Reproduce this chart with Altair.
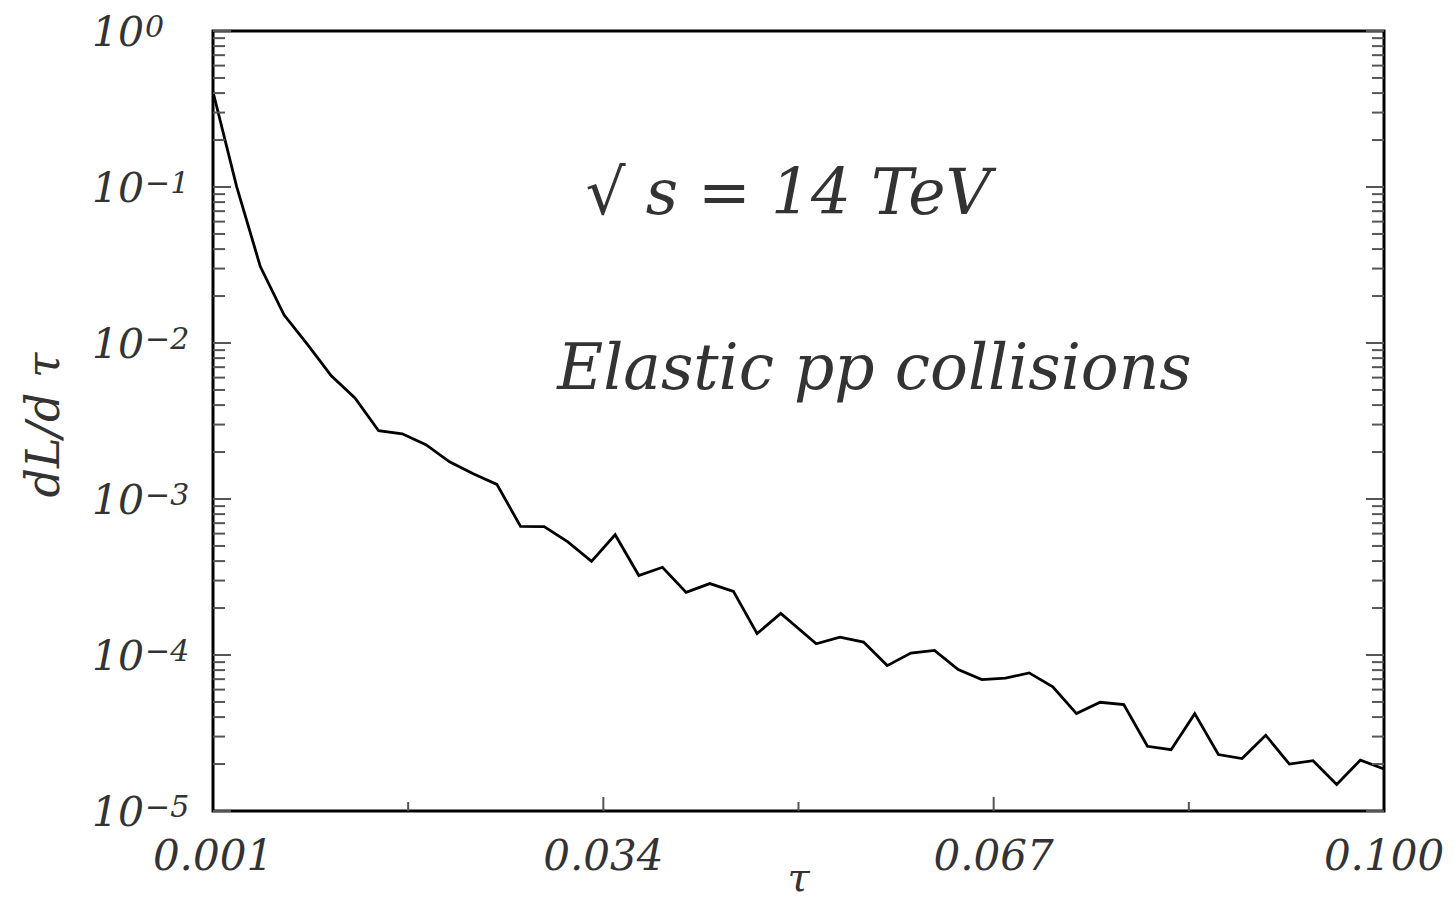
import altair as alt
import pandas as pd

# ---- data ----
tau = [0.001, 0.003, 0.005, 0.007, 0.009, 0.011, 0.013, 0.015, 0.017, 0.019,
       0.021, 0.023, 0.025, 0.027, 0.029, 0.031, 0.033, 0.035, 0.037, 0.039,
       0.041, 0.043, 0.045, 0.047, 0.049, 0.052, 0.054, 0.056, 0.058, 0.060,
       0.062, 0.064, 0.066, 0.068, 0.070, 0.072, 0.074, 0.076, 0.078, 0.080,
       0.082, 0.084, 0.086, 0.088, 0.090, 0.092, 0.094, 0.096, 0.098, 0.100]
dLdtau = [0.408, 0.1006, 0.0309, 0.01517, 0.00975, 0.00616, 0.00444, 0.00274, 0.00262, 0.00223,
          0.00173, 0.00145, 0.00124, 0.000668, 0.000665, 0.000531, 0.000398, 0.000590, 0.000323, 0.000365,
          0.000252, 0.000287, 0.000256, 0.000137, 0.000185, 0.000118, 0.000130, 0.000121, 8.55e-5, 1.03e-4,
          1.07e-4, 8.06e-5, 6.95e-5, 7.10e-5, 7.68e-5, 6.25e-5, 4.21e-5, 4.98e-5, 4.81e-5, 2.60e-5,
          2.47e-5, 4.21e-5, 2.30e-5, 2.17e-5, 3.06e-5, 2.00e-5, 2.10e-5, 1.48e-5, 2.12e-5, 1.86e-5]

x_label_values = [0.001, 0.034, 0.067, 0.100]
x_labels = ["0.001", "0.034", "0.067", "0.100"]
x_major_ticks = [0.034, 0.067]
x_minor_ticks = [0.0175, 0.0505, 0.0835]

y_decades = [1.0, 1e-1, 1e-2, 1e-3, 1e-4, 1e-5]
y_base = ["10", "10", "10", "10", "10", "10"]
y_exp = ["0", "\u22121", "\u22122", "\u22123", "\u22124", "\u22125"]
y_minor_ticks = [m * d for d in [1e-1, 1e-2, 1e-3, 1e-4, 1e-5] for m in [2, 3, 4, 5, 6, 7, 8, 9]]

annotations = ["\u221a s = 14 TeV", "Elastic pp collisions"]
annot_tau = [0.0325, 0.0301]
annot_val = [0.089, 0.00673]

x_title = "\u03c4"
y_title = "dL/d \u03c4"

W, H = 1171, 780
FONT = "DejaVu Serif"
TXT = "#333333"
TICK = "#555555"

xscale = alt.Scale(domain=[0.001, 0.1], nice=False, zero=False)
yscale = alt.Scale(type="log", domain=[1e-5, 1], nice=False)

df = pd.DataFrame({"tau": tau, "v": dLdtau})
line = alt.Chart(df).mark_line(color="black", strokeWidth=2.8).encode(
    x=alt.X("tau:Q", scale=xscale, axis=None),
    y=alt.Y("v:Q", scale=yscale, axis=None),
)

ymaj = pd.DataFrame({"v": y_decades, "base": y_base, "exp": y_exp})
ymin = pd.DataFrame({"v": y_minor_ticks})
xmaj = pd.DataFrame({"t": x_major_ticks})
xmin = pd.DataFrame({"t": x_minor_ticks})
xlab = pd.DataFrame({"t": x_label_values, "label": x_labels})

def yrule(d, x0, x1):
    return alt.Chart(d).mark_rule(color=TICK, strokeWidth=2).encode(
        y=alt.Y("v:Q", scale=yscale, axis=None), x=alt.value(x0), x2=alt.value(x1))

def xrule(d, length):
    return alt.Chart(d).mark_rule(color=TICK, strokeWidth=2).encode(
        x=alt.X("t:Q", scale=xscale, axis=None), y=alt.value(H), y2=alt.value(H - length))

ticks = [
    yrule(ymaj, 0, 18), yrule(ymin, 0, 12),
    yrule(ymaj, W - 18, W), yrule(ymin, W - 12, W),
    xrule(xmaj, 14), xrule(xmin, 9),
]

xlabels = alt.Chart(xlab).mark_text(align="center", baseline="middle", font=FONT,
                                    fontStyle="italic", fontSize=42, color=TXT).encode(
    x=alt.X("t:Q", scale=xscale, axis=None), y=alt.value(H + 46), text="label:N")

ylab_base = alt.Chart(ymaj).mark_text(align="left", baseline="middle", font=FONT,
                                      fontStyle="italic", fontSize=41, color=TXT, dy=3).encode(
    y=alt.Y("v:Q", scale=yscale, axis=None), x=alt.value(-121), text="base:N")
ylab_exp = alt.Chart(ymaj).mark_text(align="left", baseline="middle", font=FONT,
                                     fontStyle="italic", fontSize=30, color=TXT, dy=-3).encode(
    y=alt.Y("v:Q", scale=yscale, axis=None), x=alt.value(-121 + 53), text="exp:N")

ann = pd.DataFrame({"t": annot_tau, "v": annot_val, "label": annotations})
annot = alt.Chart(ann).mark_text(align="left", baseline="middle", font=FONT,
                                 fontStyle="italic", fontSize=63, color=TXT).encode(
    x=alt.X("t:Q", scale=xscale, axis=None), y=alt.Y("v:Q", scale=yscale, axis=None),
    text="label:N")

ytitle = alt.Chart(pd.DataFrame({"label": [y_title]})).mark_text(
    angle=270, align="center", baseline="middle", font=FONT, fontStyle="italic",
    fontSize=46, color=TXT).encode(x=alt.value(-168), y=alt.value(394), text="label:N")
xtitle = alt.Chart(pd.DataFrame({"label": [x_title]})).mark_text(
    align="center", baseline="middle", font=FONT, fontStyle="italic",
    fontSize=40, color=TXT).encode(x=alt.value(W / 2), y=alt.value(H + 68), text="label:N")

chart = alt.layer(line, *ticks, xlabels, ylab_base, ylab_exp, annot, ytitle, xtitle).properties(
    width=W, height=H,
    padding={"left": 205, "top": 23, "right": 62, "bottom": 91},
    autosize=alt.AutoSizeParams(type="none"),
    background="white",
).configure_view(stroke="black", strokeWidth=3)

chart.save("out.html", embed_options={"renderer": "svg", "actions": False})
